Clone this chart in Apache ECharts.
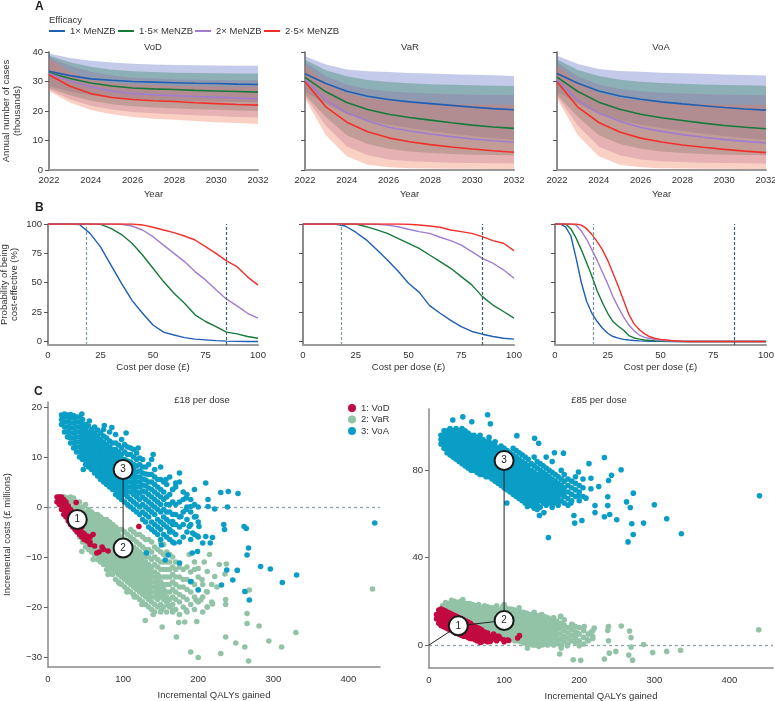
<!DOCTYPE html>
<html><head><meta charset="utf-8">
<script src="https://cdn.jsdelivr.net/npm/echarts@6/dist/echarts.min.js"></script>
<style>html,body{margin:0;padding:0;background:#fff}#c{width:775px;height:701px}</style>
</head><body><div id="c"></div>
<script>
// ---------- Panel A data ----------
const years = [2022,2023,2024,2025,2026,2027,2028,2029,2030,2031,2032];
const effNames = ['1× MeNZB','1·5× MeNZB','2× MeNZB','2·5× MeNZB'];
const strategyA = ['VoD','VaR','VoA'];
// order: 1x, 1.5x, 2x, 2.5x
const vodMean = [
  [33.5,32.0,30.9,30.4,30.0,29.8,29.6,29.4,29.3,29.1,29.0],
  [33.0,31.0,29.5,28.5,27.8,27.5,27.3,27.0,26.8,26.6,26.4],
  [32.7,30.2,28.2,26.8,25.9,25.5,25.2,24.9,24.7,24.4,24.1],
  [32.3,28.4,25.9,24.6,23.9,23.5,23.2,22.8,22.5,22.2,22.0]];
const vodUpper = [
  [39.5,38.0,37.0,36.4,36.0,35.8,35.6,35.5,35.4,35.3,35.3],
  [38.8,36.5,35.0,34.0,33.5,33.2,33.0,32.9,32.8,32.7,32.7],
  [38.3,35.3,33.3,32.0,31.3,31.0,30.8,30.6,30.5,30.4,30.4],
  [37.8,33.3,30.8,29.6,29.0,28.8,28.6,28.4,28.3,28.2,28.2]];
const vodLower = [
  [28.5,26.5,25.3,24.5,24.0,23.7,23.5,23.3,23.2,23.1,23.0],
  [27.8,25.3,23.5,22.3,21.6,21.2,20.9,20.6,20.4,20.2,20.0],
  [27.2,24.0,21.8,20.5,19.7,19.2,18.9,18.6,18.3,18.0,17.8],
  [26.8,22.9,20.3,18.9,18.0,17.4,17.0,16.6,16.2,15.9,15.6]];
const varMean = [
  [32.6,29.3,26.7,25.0,23.9,23.1,22.5,21.9,21.3,20.8,20.4],
  [31.4,26.5,22.9,20.5,18.9,17.8,16.9,16.0,15.2,14.6,14.1],
  [30.6,23.7,19.4,16.6,14.5,13.2,12.2,11.3,10.5,9.9,9.4],
  [29.9,21.4,16.2,13.0,10.9,9.6,8.6,7.8,7.1,6.5,6.0]];
const varUpper = [
  [38.6,35.8,34.1,33.5,33.2,32.9,32.7,32.5,32.3,32.1,31.9],
  [37.4,33.8,31.8,30.5,29.8,29.4,29.1,28.9,28.7,28.6,28.5],
  [36.5,31.8,29.0,27.5,26.7,26.2,25.9,25.7,25.5,25.4,25.3],
  [35.5,29.5,26.0,24.3,23.5,23.0,22.6,22.4,22.2,22.1,22.0]];
const varLower = [
  [26.5,22.5,19.0,16.8,15.3,14.2,13.2,12.3,11.5,10.8,10.2],
  [25.5,18.0,11.8,8.8,7.2,6.3,5.8,5.4,5.2,5.1,5.0],
  [25.0,15.0,8.0,5.0,3.6,3.0,2.7,2.5,2.4,2.3,2.2],
  [24.2,11.8,4.7,1.8,0.9,0.6,0.5,0.4,0.4,0.3,0.3]];
const voaMean = [
  [32.7,29.4,26.8,25.1,24.0,23.1,22.4,21.8,21.2,20.7,20.3],
  [31.5,26.6,23.0,20.6,18.9,17.7,16.8,15.9,15.1,14.5,14.0],
  [30.6,23.6,19.3,16.5,14.4,13.1,12.0,11.1,10.3,9.7,9.2],
  [29.9,21.3,16.1,12.9,10.8,9.5,8.5,7.7,7.0,6.4,5.9]];
const voaUpper = [
  [38.7,35.9,34.2,33.6,33.3,33.0,32.8,32.6,32.4,32.2,32.0],
  [37.5,33.9,31.9,30.6,29.9,29.5,29.2,29.0,28.8,28.7,28.6],
  [36.5,31.8,29.0,27.5,26.7,26.2,25.9,25.7,25.5,25.4,25.3],
  [35.5,29.5,26.0,24.3,23.5,23.0,22.6,22.4,22.2,22.1,22.0]];
const voaLower = [
  [26.5,22.5,19.0,16.8,15.3,14.2,13.2,12.3,11.5,10.8,10.2],
  [25.5,18.0,11.8,8.8,7.2,6.3,5.8,5.4,5.2,5.1,5.0],
  [25.0,15.0,8.0,5.0,3.6,3.0,2.7,2.5,2.4,2.3,2.2],
  [24.2,11.8,4.7,1.8,0.9,0.6,0.5,0.4,0.4,0.3,0.3]];

// ---------- Panel B data ----------
const costX = [0,5,10,15,20,25,30,35,40,45,50,55,60,65,70,75,80,85,90,95,100];
const vodProb = [
  [100,100,100,99.5,92,80.5,65,49.5,35,24,14,8,5.5,3.3,2,1.4,0.7,0.3,0.1,0,0],
  [100,100,100,100,100,99.7,96.3,91,83.6,73.6,62.3,51,41,32.6,22.7,17,12.7,8,6.5,4.2,2.8],
  [100,100,100,100,100,100,100,99.8,98.3,94.9,89.2,82,75,68,59.5,52.4,44,36,30.3,24,19.8],
  [100,100,100,100,100,100,100,100,100,99.2,97.2,94.9,92.6,89.8,86.4,80.7,75,68.6,63.7,55,48]];
const varProb = [
  [100,100,100,100,98.3,93,86.5,78,69.4,60,49.6,42,30.5,24,18,12.7,8.5,6.2,4.2,2.8,2],
  [100,100,100,100,100,100,97.7,95,92,87.8,83.6,79.3,73.6,68,62.3,55.2,48.2,38.2,31,25.5,19.8],
  [100,100,100,100,100,100,100,99.8,99,97.7,95.5,93.5,92,88.7,85.8,82,76.5,70.8,66.6,61,53.8],
  [100,100,100,100,100,100,100,100,100,100,99.8,99.2,98.3,97.2,94.9,93.5,92,89.2,85.8,83.6,77.3]];
const costXVoA = [0,2.5,5,7.5,10,12.5,15,17.5,20,22.5,25,27.5,30,32.5,35,37.5,40,42.5,45,47.5,50,55,60,65,70,80,90,100];
const voaProb = [
  [100,99.8,97.5,90,71,50,34,24,17,11.3,7,4.2,2.8,1.8,1.2,0.8,0.5,0.3,0.2,0.1,0.1,0,0,0,0,0,0,0],
  [100,100,100,96,88,78,67,55.5,43,33,24,17,13,9.5,5,3,2,1.3,0.8,0.5,0.3,0.1,0,0,0,0,0,0],
  [100,100,100,100,99,94,87,78,69,59,49,38,29,21,14,9,5.5,3.5,2.5,1.6,1,0.4,0.1,0,0,0,0,0],
  [100,100,100,100,100,99,96,91,85,78,69,58,47,35,23,15,10,6.5,4,2.5,1.8,0.8,0.2,0,0,0,0,0]];
const thresholds = [18, 85];

// ---------- Panel C data (columns: [QALYs, costs, costs, ...]) ----------
const scatterNames = ['1: VoD','2: VaR','3: VoA'];
const vod18Cols = [
 [12,1,2],[15,0.5,1.5,2],[18,-0.5,0.5,1.5,2],[21,-1.5,-0.5,0.5,1.5],[24,-2,-1,0,1],
 [27,-2.8,-1.8,-0.8,0.2],[30,-3.5,-2.5,-1.5,-0.5],[33,-4,-3,-2,-1],[36,-4.5,-3.5,-2.5,-1.5],
 [39,-5,-4,-3,-2],[42,-5.5,-4.5,-3.5],[45,-6,-5,-4],[48,-6.5,-5.3],[52,-6.8,-5.8],[56,-7,-6],
 [62,-7.8],[68,-9],[74,-8.5]];
const vod18Out = [[121,-3.9],[80,-8.8],[65,-9.2],[50,-6.3],[60,-5.5],[37.5,0.9],[72,-8],[56,-7.5]];
const var18Cols = [
 [14,1.5,2],[18,0,1,2],[22,-1,0,1,2],[26,-2,-1,0,1,1.8],[30,-3,-2,-1,0,1,2],
 [34,-4,-3,-2,-1,0,1,1.8],[38,-5,-4,-3,-2,-1,0,1],[42,-6,-5,-4,-3,-2,-1,0,1],
 [46,-7,-6,-5,-4,-3,-2,-1,0],[50,-8,-7,-6,-5,-4,-3,-2,-1,0.5],
 [54,-8.5,-7.5,-6.5,-5.5,-4.5,-3.5,-2.5,-1.5,-0.5],[58,-9,-8,-7,-6,-5,-4,-3,-2,-1],
 [62,-9.5,-8.5,-7.5,-6.5,-5.5,-4.5,-3.5,-2.5,-1.5],[66,-10.5,-9.5,-8.5,-7.5,-6.5,-5.5,-4.5,-3.5,-2.5,-1.5],
 [70,-11,-10,-9,-8,-7,-6,-5,-4,-3,-2],[74,-11.5,-10.5,-9.5,-8.5,-7.5,-6.5,-5.5,-4.5,-3.5,-2.5],
 [78,-12.5,-11.5,-10.5,-9.5,-8.5,-7.5,-6.5,-5.5,-4.5,-3.5,-2.5],[82,-13,-12,-11,-10,-9,-8,-7,-6,-5,-4,-3],
 [86,-13.5,-12.5,-11.5,-10.5,-9.5,-8.5,-7.5,-6.5,-5.5,-4.5,-3.5],[90,-14.5,-13,-12,-11,-10,-9,-8,-7,-6,-5,-4],
 [94,-15,-13.5,-12.5,-11.5,-10.5,-9.5,-8.5,-7.5,-6.5,-5.5,-4.5],[98,-15.5,-14,-13,-12,-11,-10,-9,-8,-7,-6,-4.5],
 [102,-16,-14.5,-13.5,-12.5,-11.5,-10.5,-9.5,-8.5,-7.5,-6.5,-5],[106,-16.5,-15,-14,-13,-12,-11,-10,-9,-8,-7,-5.5],
 [110,-17,-15.5,-14.5,-13.5,-12.5,-11.5,-10.5,-9.5,-8.5,-7.5,-6,-4.5],[114,-17.5,-16,-15,-14,-13,-12,-11,-10,-9,-8,-6.5,-5],
 [118,-18,-16.5,-15.5,-14.5,-13.5,-12.5,-11.5,-10.5,-9.5,-8.5,-7,-5.5],[122,-18.5,-17,-16,-15,-14,-13,-12,-11,-10,-9,-7.5,-5.5],
 [126,-19,-17.5,-16.5,-15.5,-14.5,-13.5,-12.5,-11.5,-10.5,-9.5,-8,-6],[130,-19.5,-18,-17,-16,-15,-14,-13,-12,-11,-10,-8.5,-6.5],
 [134,-20,-18.5,-17.5,-16.5,-15.5,-14.5,-13.5,-12.5,-11.5,-10,-8.5,-6.5],[138,-20.5,-19,-18,-17,-16,-15,-14,-13,-12,-10.5,-9,-7],
 [142,-21,-19.5,-18,-17,-16,-15,-14,-13,-11.5,-10,-8],[146,-20,-18.5,-17.5,-16.5,-15.5,-14.5,-13.5,-12,-10.5,-8.5],
 [150,-21,-19.5,-18,-17,-16,-15,-14,-12.5,-11,-9,-7],[154,-20,-18.5,-17.5,-16.5,-15.5,-14,-12.5,-11,-9.5,-7.5],
 [158,-21,-19,-18,-17,-15.5,-14,-12.5,-11,-9],[162,-20,-18.5,-17,-15.5,-14,-12.5,-11,-9.5],
 [166,-21,-19.5,-18,-16.5,-15,-13.5,-12,-10],[170,-20.5,-18.5,-17,-15.5,-14,-12.5,-11],
 [175,-21.5,-19,-17.5,-16,-14,-12],[180,-20,-18,-16,-14.5,-12.5],[185,-21,-18.5,-16.5,-14.5,-12],
 [190,-19.5,-17,-15,-13],[195,-20.5,-18,-15.5,-12.5],[200,-19,-16.5,-14],[206,-21,-18,-15.5],
 [212,-20,-17],[218,-19,-15.5]];
const var18Out = [[432,-16.4],[330,-25.1],[311,-28],[294,-26.8],[281,-23.8],[267,-30.8],[262,-28],[250,-27.2],
 [236.5,-26],[230,-29.3],[200,-30.1],[190,-29],[171,-26],[152,-24],[129.5,-22.7],[198,-22.9],[182,-23],[174,-23.1],
 [265,-21.3],[265,-23.3],[236.5,-19.5],[236.5,-18.5],[219,-19.4],[212,-20],[268,-16.6],[263,-16.9],[252,-12.6],
 [237.5,-11.4],[235.5,-13.4],[222,-13.9],[212,-12.9],[208,-11],[191,-14.9],[211,-16.9],[203.5,-18.6],[197,-18.6],
 [184,-20.6],[166,-20.6],[160,-19.6],[151,-20.6],[225,-16],[228,-11.5],[205,-14.5],[215,-9.5],[195,-11],[188,-9.5],
 [200,-12.3],[45,-8.9],[60,-10.5],[80,-13.5],[95,-15.3],[105,-17],[115,-18],[125,-19.5],[140,-21.5]];
const voa18Cols = [
 [18,16.5,17.5,18.4],[22,15,16,17,18,18.6],[26,14,15,16,17,18,18.4],[30,12.8,13.8,14.8,15.8,16.8,17.8,18.5],
 [34,11.8,12.8,13.8,14.8,15.8,16.8,17.8,18.3],[38,11,12,13,14,15,16,17,18],[42,10,11,12,13,14,15,16,17,18],
 [46,9.5,10.5,11.5,12.5,13.5,14.5,15.5,16.5,17.5],[50,8.5,9.5,10.5,11.5,12.5,13.5,14.5,15.5,16.5],
 [54,8,9,10,11,12,13,14,15,16.2],[58,7.5,8.5,9.5,10.5,11.5,12.5,13.5,14.5,15.5],
 [62,6.8,7.8,8.8,9.8,10.8,11.8,12.8,13.8,14.8,16],[66,6.2,7.2,8.2,9.2,10.2,11.2,12.2,13.2,14.2,15.4],
 [70,5.5,6.5,7.5,8.5,9.5,10.5,11.5,12.5,13.5,14.8],[74,5,6,7,8,9,10,11,12,13,14.2,15.5],
 [78,4.5,5.5,6.5,7.5,8.5,9.5,10.5,11.5,12.5,13.8],[82,4,5,6,7,8,9,10,11,12,13.2,15],
 [86,3.5,4.5,5.5,6.5,7.5,8.5,9.5,10.5,11.5,12.8],[90,2.5,3.5,4.5,5.5,6.5,7.5,8.5,9.5,10.5,11.5,12.8,14.5],
 [94,2,3,4,5,6,7,8,9,10,11,12.4],[98,1.5,2.5,3.5,4.5,5.5,6.5,7.5,8.5,9.5,10.5,11.8,13.5],
 [102,1,2.5,3.5,4.5,5.5,6.5,7.5,8.5,9.5,11,12.5],[106,0.5,2,3,4,5,6,7,8,9.2,10.5,12],
 [110,0,1.5,3,4,5,6,7,8,9,10.5,11.8],[114,-0.5,1,2.5,3.5,4.5,5.5,6.5,7.5,8.5,10,11.5],
 [118,-1,0.5,2,3,4,5,6,7,8.2,9.5,10.8],[122,-1.5,0,1.5,2.8,4,5,6,7.2,8.5,9.8],
 [126,-2.5,-1,0.5,2,3.2,4.4,5.6,6.8,8,9.5],[130,-3,-1.5,0,1.5,3,4.2,5.4,6.6,8],
 [134,-4,-2,-0.5,1,2.5,3.8,5,6.5,8.5],[138,-4.5,-3,-1,0.5,2,3.5,5,6.5,9.5],
 [142,-5,-3.5,-1.5,0,1.5,3,4.5,6,7.5],[146,-5.5,-4,-2.5,-0.5,1,2.5,4,5.5],
 [150,-6.5,-4.5,-3,-1,0.5,2,3.5,5.5,8],[154,-5.5,-3.5,-2,-0.5,1.5,3,5],[158,-6,-4,-2.5,-1,0.5,2,4.5],
 [162,-6.5,-5,-3,-1,0.5,2.5,6],[166,-7,-5,-3.5,-1.5,1,3.5],[170,-5.5,-3.5,-1.5,0.5,4],
 [175,-7,-4,-2,1,5],[180,-6,-3.5,-1,1.5,3],[185,-5,-2.5,0,2.5],[190,-6.5,-3.5,-1,1.5],
 [195,-5.5,-2,0.5,3.5],[200,-6,-3,0]];
const voa18Out = [[20.7,18.2],[45,18.6],[55,17.2],[75,16.3],[85,15.9],[104,14.8],[47,7.5],[120,11.8],[140,10.5],
 [157,5.5],[170,4.8],[175,6.8],[166,3.5],[184,1.8],[190,0.1],[197,-1.9],[166,-2.9],[177,-1.9],[184,-0.5],[188,-3.9],
 [162,-4.5],[201,-3.9],[192.5,-5.2],[199,-5.8],[210,-5.9],[206,-7.2],[216,-7.2],[219,-6.1],[199,-8.9],[192,-9.2],
 [168,-7.2],[160,-9.6],[156,-10.6],[131,-9.2],[151,-7.6],[175,-11.2],[190,-14.9],[200,-16.6],[210,4.8],[230,2.9],
 [240,3.1],[253,2.7],[213,1.5],[213,0.1],[222,-0.4],[239,0],[234,-3.5],[235,-4.5],[261,-3.9],[264,-4.3],[267,-8.2],
 [265,-9.6],[231,-15.6],[238,-12.6],[246,-14.6],[252,-12.7],[262,-16.9],[268,-18.6],[283,-11.9],[296,-12.4],
 [312,-15.1],[331,-13.6],[435,-3.2]];

const vod85Cols = [
 [10,12,14],[13,10,12,14,16],[16,9,11,13,15,16.5],[19,8.5,10.5,12.5,14.5,16],[22,8,10,12,14,15.5],
 [25,7.5,9.5,11.5,13.5,15],[28,7,9,11,13,14.5],[31,6.5,8.5,10.5,12.5,14],[34,6,8,10,12,13.5],
 [37,5.5,7.5,9.5,11.5,13],[40,5,7,9,11,12.5],[43,4.5,6.5,8.5,10.5,12],[46,4,6,8,10,11.5],
 [49,4,6,8,10,11],[52,3.5,5.5,7.5,9.5,10.5],[55,3,5,7,9,10],[58,3,5,7,9],[61,2.5,4.5,6.5,8.5],
 [64,2,4,6,8],[67,2,4,6,7.5],[70,1.5,3.5,5.5,7],[74,2,4,6],[78,1.5,3.5,5.5],[82,2,4],[86,3,5],[90,2,4],[95,3]];
const vod85Out = [[106,2.1],[120.5,4.3],[99.5,2.4],[93,4],[81.7,1.7],[68.3,1.2],[118,3.2],[100,1.5],[105,2.3]];
const var85Cols = [
 [18,14,16,18],[22,12,14,16,18,19.5],[26,11,13,15,17,19],[30,10,12,14,16,18,19.5],[34,10,12,14,16,18,20],
 [38,10,12,14,16,18,19.5],[42,10,12,14,16,18,20],[46,9,11,13,15,17,19],[50,9,11,13,15,17,19],
 [54,9,11,13,15,17,19],[58,8,10,12,14,16,18.5],[62,8,10,12,14,16,18],[66,7,9,11,13,15,17,18.5],
 [70,7,9,11,13,15,17],[74,6,8,10,12,14,16,18],[78,6,8,10,12,14,16,17.5],[82,5,7,9,11,13,15,17],
 [86,5,7,9,11,13,15,17],[90,4,6,8,10,12,14,16,18],[94,4,6,8,10,12,14,16],
 [98,3.5,5.5,7.5,9.5,11.5,13.5,15.5,17.5],[102,3,5,7,9,11,13,15,17],[106,3,5,7,9,11,13,15,16.5],
 [110,2.5,4.5,6.5,8.5,10.5,12.5,14.5,16.5],[114,2,4,6,8,10,12,14,16],[118,2,4,6,8,10,12,14,15.5],
 [122,1.5,3.5,5.5,7.5,9.5,11.5,13.5,15],[126,1,3,5,7,9,11,13,15],[130,1,3,5,7,9,11,13,14.5],
 [134,0.5,2.5,4.5,6.5,8.5,10.5,12.5,14],[138,0,2,4,6,8,10,12,14],[142,0,2,4,6,8,10,12,13.5],
 [146,-0.5,1.5,3.5,5.5,7.5,9.5,11.5,13.5],[150,0,2,4,6,8,10,12,14],[154,1,3,5,7,9,11,13],
 [158,0,2,4,6,8,10,12.5],[162,1,3,5,7,9,11],[166,0,2.5,4.5,6.5,8.5,10.5,12.5],[170,1,3,5,7,9,11],
 [175,0,2.5,5,7.5,10,13],[180,1.5,4,6.5,9,11.5],[185,0.5,3,5.5,8],[190,2,4.5,7,9.5],[195,1,3.5,6,8.5],
 [200,2,5,8],[206,0.5,3.5,6.5],[212,2,5],[218,3,6.5]];
const var85Out = [[439,7],[335,-2.4],[316.5,-2.9],[297.8,-3.4],[285.7,0.2],[271,-6.9],[266,-4.6],[269,-0.9],
 [269,3.4],[267,6.4],[256,8.7],[248.7,-2.9],[240,-3.7],[233.5,-6.4],[239,2],[239,8.5],[238,6.7],[220,7.8],
 [215.6,5.8],[218,4],[202,-7],[192,-6.7],[174,-4.1],[176,-1.4],[131,-1.4],[153,0.2],[184,-0.3],[200,-0.3],
 [211,2.4],[206.7,8.5],[197.8,5.5],[191,9.3],[175.4,13.1],[165,12.3],[140,15],[120,17],[100,18.5],[30,20.5],[45,20.8]];
const voa85Cols = [
 [16,92,94,96],[20,90,92,94,96,98],[24,88,90,92,94,96,98],[28,87,89,91,93,95,97,99],[32,86,88,90,92,94,96,98],
 [36,85,87,89,91,93,95,97,99],[40,84,86,88,90,92,94,96,98],[44,83,85,87,89,91,93,95,97,99],
 [48,82,84,86,88,90,92,94,96,98],[52,81,83,85,87,89,91,93,95,97],[56,80,82,84,86,88,90,92,94,96],
 [60,80,82,84,86,88,90,92,94,96],[64,79,81,83,85,87,89,91,93,95],[68,78,80,82,84,86,88,90,92,94,96],
 [72,78,80,82,84,86,88,90,92,94],[76,77,79,81,83,85,87,89,91,93],[80,77,79,81,83,85,87,89,91,93,95],
 [84,76,78,80,82,84,86,88,90,92],[88,75,77,79,81,83,85,87,89,91,93],[92,74,76,78,80,82,84,86,88,90],
 [96,73,75,77,79,81,83,85,87,89,91],[100,72,74,76,78,80,82,84,86,88,90],[104,71,73,75,77,79,81,83,85,87,89],
 [108,70,72,74,76,78,80,82,84,86,88],[112,69,71,73,75,77,79,81,83,85,87,90],[116,68,70,72,74,76,78,80,82,84,86,89],
 [120,67,69,71,73,75,77,79,81,83,85,88],[124,66,68,70,72,74,76,78,80,82,84,87],[128,65,67,69,71,73,75,77,79,81,83,86],
 [132,64,66,68,70,72,74,76,78,80,82,85],[136,64,66,68,70,72,74,76,78,80,83],[140,63,65,67,69,71,73,75,77,79,82,86],
 [144,62,64,66,68,70,72,74,76,78,81,84],[148,63,66,68,70,72,74,76,78,80,83],[152,65,67,69,71,73,75,77,79,82],
 [156,64,66,68,70,72,74,76,78,81,86],[160,65,67,69,71,73,75,77,80],[164,63,66,68,70,72,74,76,79,84],
 [168,65,67,69,71,73,75,78],[172,64,66,68,70,72,74,77],[176,66,69,71,73,76,80],[180,65,68,70,72,75,78],
 [185,64,67,70,73,76],[190,66,69,72,75],[195,68,71,74,77],[200,66,70,73],[205,68,72,76]];
const voa85Out = [[440,68.3],[336,50.9],[316.5,57.8],[300,64.2],[285.7,55.8],[271.9,50.6],[265,47.2],[270,55.5],
 [272,69.5],[268,62.9],[263,65.5],[255.8,80.2],[250,57.3],[240.6,59.7],[238,63.8],[238,67.8],[243,77.7],[239,75.3],
 [233.5,85.8],[233.5,58.7],[226,72.5],[221,63.8],[221,60.6],[215.6,71.5],[213,83],[215.6,76.3],[203.6,57],[194,55.8],
 [193,59.3],[199,79.2],[179,87.8],[159,49.2],[153,60.6],[147,59.3],[103.6,65],[78,105.4],[45,104.4],[31.7,103],
 [81.7,101.2],[57,102.2],[117,95.8],[140.6,94.6],[146,92.3],[167,88],[198.7,68.3],[209,67.2],[189,65],[180,68],
 [173,65.7],[162,65],[157.6,66.4],[140,62.6],[131,63.4]];

// frontier / mean points
const mean18 = [[39,-2.5],[100,-8.2],[100,7.5]];
const front18 = [[100,-8.2],[100,7.5]];
const mean85 = [[39,8.8],[100,11.2],[100,84.4]];
const front85 = [[0,0],[39,8.8],[100,11.2],[100,84.4]];
const circleLabels = ['1','2','3'];

// ---------- styling ----------
const FONT = '"Liberation Sans",Arial,sans-serif';
const TC = '#333';
const FS = 9.5;
const lineCols = ['#1f5fb4','#167a3a','#a07cd0','#f2302a'];
const bandCols = ['rgba(100,115,200,0.38)','rgba(40,130,90,0.35)','rgba(150,100,160,0.30)','rgba(240,120,90,0.35)'];
const scatCols = ['#c20a40','#93c3a7','#0a9ec6'];

const cols2pts = cols => { const p=[]; cols.forEach(c=>{ for(let i=1;i<c.length;i++) p.push([c[0],c[i]]); }); return p; };

const gridsA = [[49,258],[305,514],[557,766]];
const gridsB = [[48,258],[303,514],[555,766]];
const grid = [], xAxis = [], yAxis = [], series = [];
const lbl = (extra) => Object.assign({fontFamily:FONT,fontSize:FS,color:TC}, extra||{});
const nameStyle = {fontFamily:FONT,fontSize:FS,color:TC};

// Panel A grids (category year axis so bands can be stacked)
gridsA.forEach(([l,r],s)=>{
  grid.push({left:l,top:52,width:r-l,height:118,containLabel:false,outerBoundsMode:'none'});
  xAxis.push({type:'category',gridIndex:grid.length-1,data:years.map(String),boundaryGap:false,
    axisLine:{show:true,onZero:false,lineStyle:{color:'#9a9a9a',width:2}},axisTick:{show:false},
    axisLabel:lbl({interval:1,margin:5,showMaxLabel:true}),splitLine:{show:false},
    name:'Year',nameLocation:'middle',nameGap:19,nameTextStyle:nameStyle});
  yAxis.push({type:'value',gridIndex:grid.length-1,min:0,max:40,interval:10,
    axisLine:{show:true,onZero:false,lineStyle:{color:'#666',width:1.5}},
    axisTick:{show:true,length:4,lineStyle:{color:'#555'}},
    axisLabel:lbl({show:s===0,margin:6}),splitLine:{show:false},
    name:s===0?'Annual number of cases\n(thousands)':'',nameLocation:'middle',nameGap:26,
    nameTextStyle:Object.assign({lineHeight:11},nameStyle)});
});
// Panel B grids
gridsB.forEach(([l,r],s)=>{
  grid.push({left:l,top:224,width:r-l,height:121,containLabel:false,outerBoundsMode:'none'});
  xAxis.push({type:'value',gridIndex:grid.length-1,min:0,max:100,interval:25,
    axisLine:{show:true,onZero:false,lineStyle:{color:'#9a9a9a',width:2}},axisTick:{show:false},
    axisLabel:lbl({margin:5}),splitLine:{show:false},
    name:'Cost per dose (£)',nameLocation:'middle',nameGap:17,nameTextStyle:nameStyle});
  yAxis.push({type:'value',gridIndex:grid.length-1,min:-3,max:100,
    axisLine:{show:true,onZero:false,lineStyle:{color:'#666',width:1.5}},
    axisTick:{show:true,length:4,lineStyle:{color:'#555'},customValues:[0,25,50,75,100]},
    axisLabel:lbl({show:s===0,margin:6,customValues:[0,25,50,75,100]}),splitLine:{show:false},
    name:s===0?'Probability of being\ncost-effective (%)':'',nameLocation:'middle',nameGap:28,
    nameTextStyle:Object.assign({lineHeight:10.5},nameStyle)});
});
// Panel C grids
const minusFmt = v => v<0 ? '\u2212'+(-v) : String(v);
grid.push({left:48,top:402,width:332,height:265,containLabel:false,outerBoundsMode:'none'});
xAxis.push({type:'value',gridIndex:6,min:0,max:442,
  axisLine:{show:true,onZero:false,lineStyle:{color:'#8a8a8a',width:1.5}},axisTick:{show:false},
  axisLabel:lbl({margin:7,customValues:[0,100,200,300,400]}),splitLine:{show:false},
  name:'Incremental QALYs gained',nameLocation:'middle',nameGap:23,nameTextStyle:nameStyle});
yAxis.push({type:'value',gridIndex:6,min:-32,max:21,
  axisLine:{show:true,onZero:false,lineStyle:{color:'#8a8a8a',width:1.5}},
  axisTick:{show:true,length:4,lineStyle:{color:'#666'},customValues:[-30,-20,-10,0,10,20]},
  axisLabel:lbl({margin:6,formatter:minusFmt,customValues:[-30,-20,-10,0,10,20]}),splitLine:{show:false},
  name:'Incremental costs (£ millions)',nameLocation:'middle',nameGap:36,nameTextStyle:nameStyle});
grid.push({left:429,top:409,width:344,height:259,containLabel:false,outerBoundsMode:'none'});
xAxis.push({type:'value',gridIndex:7,min:0,max:458,
  axisLine:{show:true,onZero:false,lineStyle:{color:'#8a8a8a',width:1.5}},axisTick:{show:false},
  axisLabel:lbl({margin:7,customValues:[0,100,200,300,400]}),splitLine:{show:false},
  name:'Incremental QALYs gained',nameLocation:'middle',nameGap:23,nameTextStyle:nameStyle});
yAxis.push({type:'value',gridIndex:7,min:-10.5,max:108,
  axisLine:{show:true,onZero:false,lineStyle:{color:'#8a8a8a',width:1.5}},
  axisTick:{show:true,length:4,lineStyle:{color:'#666'},customValues:[0,40,80]},
  axisLabel:lbl({margin:6,customValues:[0,40,80]}),splitLine:{show:false}});

// Panel A series
const aMean=[vodMean,varMean,voaMean], aUp=[vodUpper,varUpper,voaUpper], aLo=[vodLower,varLower,voaLower];
for(let s=0;s<3;s++){
  for(let e=0;e<4;e++){
    const st='band'+s+'_'+e;
    series.push({type:'line',name:'lo'+st,xAxisIndex:s,yAxisIndex:s,stack:st,symbol:'none',silent:true,
      lineStyle:{width:0,opacity:0},data:aLo[s][e].slice()});
    series.push({type:'line',name:'hi'+st,xAxisIndex:s,yAxisIndex:s,stack:st,symbol:'none',silent:true,
      lineStyle:{width:0,opacity:0},areaStyle:{color:bandCols[e],opacity:1},
      data:aUp[s][e].map((u,i)=>+(u-aLo[s][e][i]).toFixed(2))});
  }
  for(let e=0;e<4;e++){
    series.push({type:'line',name:effNames[e],xAxisIndex:s,yAxisIndex:s,symbol:'none',
      itemStyle:{color:lineCols[e]},lineStyle:{color:lineCols[e],width:1.6},
      data:aMean[s][e].slice()});
  }
}
// Panel B series
const bProb=[vodProb,varProb,voaProb], bX=[costX,costX,costXVoA];
for(let s=0;s<3;s++){
  for(let e=0;e<4;e++){
    const ser={type:'line',name:effNames[e],xAxisIndex:3+s,yAxisIndex:3+s,symbol:'none',
      itemStyle:{color:lineCols[e]},lineStyle:{color:lineCols[e],width:1.4},
      data:bX[s].map((x,i)=>[x,bProb[s][e][i]])};
    if(e===0){
      ser.markLine={silent:true,symbol:'none',label:{show:false},
        data:[{xAxis:thresholds[0],lineStyle:{color:'#7d95a3',type:[3,2],width:1.2}},
              {xAxis:thresholds[1],lineStyle:{color:'#3c5f70',type:[3,2],width:1.2}}]};
    }
    series.push(ser);
  }
}
// Panel C series
const cData = [
  [cols2pts(vod18Cols).concat(vod18Out), cols2pts(var18Cols).concat(var18Out), cols2pts(voa18Cols).concat(voa18Out)],
  [cols2pts(vod85Cols).concat(vod85Out), cols2pts(var85Cols).concat(var85Out), cols2pts(voa85Cols).concat(voa85Out)]];
const drawOrder=[1,2,0];
[0,1].forEach(p=>{
  const ax=6+p;
  drawOrder.forEach((k,j)=>{
    const ser={type:'scatter',name:scatterNames[k],xAxisIndex:ax,yAxisIndex:ax,symbolSize:5.6,
      itemStyle:{color:scatCols[k],opacity:1},data:cData[p][k],z:2};
    if(j===0){
      ser.markLine={silent:true,symbol:'none',label:{show:false},
        lineStyle:{color:'#8fa3ad',type:[3,3],width:1.3},data:[{yAxis:0}],z:1};
    }
    series.push(ser);
  });
  series.push({type:'line',name:'frontier'+p,xAxisIndex:ax,yAxisIndex:ax,symbol:'none',z:3,
    lineStyle:{color:'#222',width:1},data:p===0?front18:front85});
  series.push({type:'scatter',name:'means'+p,xAxisIndex:ax,yAxisIndex:ax,symbolSize:19,z:4,
    itemStyle:{color:'#fff',borderColor:'#1a1a1a',borderWidth:2,opacity:1},
    label:{show:true,position:'inside',formatter:pp=>circleLabels[pp.dataIndex],
      fontFamily:FONT,fontSize:10,color:'#222'},
    data:p===0?mean18:mean85});
});

const legA = effNames.map((n,i)=>({data:[n],left:[44,113,190,259][i],top:21,icon:'rect',itemWidth:16,itemHeight:2,
  itemGap:0,textStyle:{fontFamily:FONT,fontSize:FS,color:TC},selectedMode:false}));
const option = {
  animation:false,
  backgroundColor:'#fff',
  grid, xAxis, yAxis, series,
  legend: legA.concat([
    {data:scatterNames,orient:'vertical',left:343,top:398,icon:'circle',itemWidth:8,itemHeight:8,itemGap:1.5,
     textStyle:{fontFamily:FONT,fontSize:FS,color:TC},selectedMode:false}
  ]),
  graphic:[
    {type:'text',left:35,top:1,style:{text:'A',font:'bold 12px '+FONT,fill:'#222'}},
    {type:'text',left:49,top:15,style:{text:'Efficacy',font:'9.5px '+FONT,fill:TC}},
    {type:'text',left:35,top:202,style:{text:'B',font:'bold 12px '+FONT,fill:'#222'}},
    {type:'text',left:34,top:386,style:{text:'C',font:'bold 12px '+FONT,fill:'#222'}},
    {type:'text',x:153,y:47,style:{text:strategyA[0],font:'9.5px '+FONT,fill:TC,textAlign:'center',textVerticalAlign:'middle'}},
    {type:'text',x:410,y:47,style:{text:strategyA[1],font:'9.5px '+FONT,fill:TC,textAlign:'center',textVerticalAlign:'middle'}},
    {type:'text',x:661,y:47,style:{text:strategyA[2],font:'9.5px '+FONT,fill:TC,textAlign:'center',textVerticalAlign:'middle'}},
    {type:'text',x:202,y:400,style:{text:'£18 per dose',font:'9.5px '+FONT,fill:TC,textAlign:'center',textVerticalAlign:'middle'}},
    {type:'text',x:599,y:400,style:{text:'£85 per dose',font:'9.5px '+FONT,fill:TC,textAlign:'center',textVerticalAlign:'middle'}}
  ]
};
const chart = echarts.init(document.getElementById('c'), null, {renderer:'canvas'});
chart.setOption(option);
</script>
</body></html>
